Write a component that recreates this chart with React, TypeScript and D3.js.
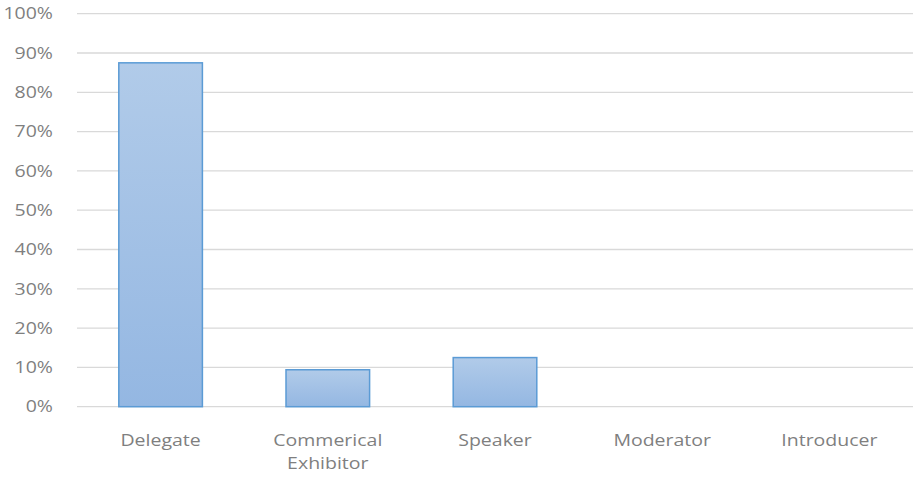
import React from "react";
import * as d3 from "d3";

const categories: string[][] = [["Delegate"], ["Commerical", "Exhibitor"], ["Speaker"], ["Moderator"], ["Introducer"]];
const values: number[] = [0.875, 0.094, 0.125, 0, 0];
const yTicks: number[] = [0, 0.1, 0.2, 0.3, 0.4, 0.5, 0.6, 0.7, 0.8, 0.9, 1.0];

const W = 915;
const H = 477;
const left = 77;
const right = 913;
const top = 13.7;
const bottom = 406.7;
const SX = 1.22;
const textColor = "#7f7f7f";
const font = "'Open Sans', sans-serif";

export default function App() {
  const x = d3.scaleBand<number>().domain(categories.map((_, i) => i)).range([left, right]).paddingInner(0.5).paddingOuter(0.25);
  const y = d3.scaleLinear().domain([0, 1]).range([bottom, top]);
  const fmt = d3.format(".0%");
  return (
    <svg width={W} height={H} style={{ position: "absolute", left: 0, top: 0, background: "#fff" }}>
      <defs>
        <linearGradient id="barGrad" x1="0" y1="0" x2="0" y2="1">
          <stop offset="0%" stopColor="#b1cbe9" />
          <stop offset="100%" stopColor="#94b7e2" />
        </linearGradient>
      </defs>
      {yTicks.map((t) => (
        <g key={t}>
          <line x1={left} x2={right} y1={y(t)} y2={y(t)} stroke="#d9d9d9" strokeWidth={1.3} />
          <text
            transform={`translate(53,${y(t) + 5.7}) scale(${SX},1)`}
            textAnchor="end"
            fontFamily={font}
            fontSize={16}
            fill={textColor}
          >
            {fmt(t)}
          </text>
        </g>
      ))}
      {values.map((v, i) =>
        v > 0 ? (
          <rect
            key={i}
            x={x(i)!}
            y={y(v)}
            width={x.bandwidth()}
            height={y(0) - y(v)}
            fill="url(#barGrad)"
            stroke="#5b9bd5"
            strokeWidth={1.5}
          />
        ) : null
      )}
      {categories.map((lines, i) => (
        <g key={i}>
          {lines.map((l, j) => (
            <text
              key={j}
              transform={`translate(${x(i)! + x.bandwidth() / 2},${446 + j * 23}) scale(${SX},1)`}
              textAnchor="middle"
              fontFamily={font}
              fontSize={16}
              fill={textColor}
            >
              {l}
            </text>
          ))}
        </g>
      ))}
    </svg>
  );
}
